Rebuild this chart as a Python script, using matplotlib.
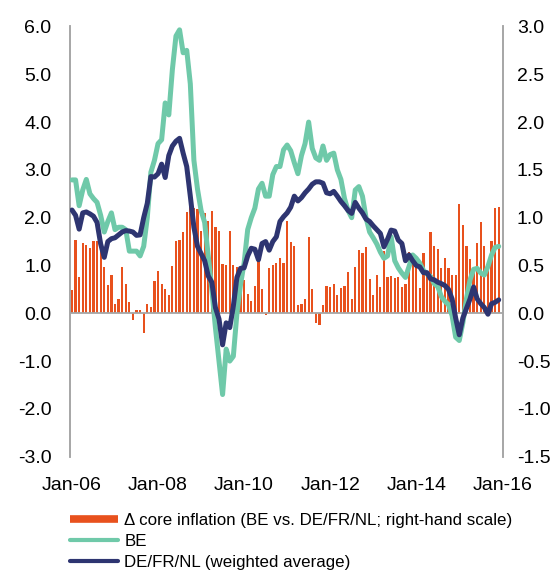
import matplotlib
matplotlib.use('Agg')
import matplotlib.pyplot as plt
from matplotlib.lines import Line2D
import numpy as np

plt.rcParams['font.family'] = ['Liberation Sans', 'DejaVu Sans']

#------- data: monthly, Jan-06 .. Dec-15 ------------
# difference in core inflation, BE vs DE/FR/NL (right-hand scale)
core_diff = [0.24, 0.77, 0.38, 0.73, 0.71, 0.68, 0.76, 0.76, 0.80, 0.48,
             0.30, 0.40, 0.10, 0.15, 0.48, 0.31, 0.12, -0.07, 0.03, 0.03,
             -0.21, 0.10, 0.07, 0.34, 0.44, 0.31, 0.25, 0.19, 0.49, 0.76,
             0.77, 0.85, 1.06, 1.13, 1.10, 1.09, 0.86, 1.05, 0.97, 1.07,
             0.90, 0.86, 0.52, 0.51, 0.86, 0.50, 0.48, 0.47, 0.35, 0.20,
             0.13, 0.29, 0.58, 0.25, -0.02, 0.47, 0.50, 0.53, 0.58, 0.53,
             0.97, 0.75, 0.70, 0.09, 0.10, 0.15, 0.80, 0.25, -0.10, -0.12,
             0.09, 0.29, 0.27, 0.31, 0.19, 0.26, 0.29, 0.43, 0.15, 0.48,
             0.66, 0.63, 0.69, 0.36, 0.19, 0.40, 0.28, 0.65, 0.38, 0.39,
             0.37, 0.38, 0.28, 0.31, 0.64, 0.53, 0.58, 0.26, 0.63, 0.44,
             0.85, 0.70, 0.67, 0.47, 0.58, 0.47, 0.40, 0.40, 1.14, 0.92,
             0.70, 0.57, 0.47, 0.73, 0.95, 0.70, 0.46, 0.76, 1.10, 1.11]

# headline inflation BE
be = [2.79, 2.79, 2.25, 2.58, 2.80, 2.50, 2.40, 2.32, 2.05, 1.70,
      1.92, 2.10, 1.75, 1.80, 1.80, 1.75, 1.30, 1.30, 1.30, 1.20,
      1.40, 2.00, 2.95, 3.20, 3.55, 3.63, 4.40, 4.15, 5.10, 5.80,
      5.93, 5.45, 5.50, 4.80, 3.20, 2.60, 2.15, 1.90, 1.20, 0.50,
      -0.30, -1.00, -1.70, -0.75, -1.00, -0.90, 0.00, 0.60, 1.05, 1.75,
      2.00, 2.20, 2.60, 2.72, 2.45, 2.45, 2.90, 3.07, 3.07, 3.42,
      3.52, 3.40, 3.15, 2.92, 3.30, 3.55, 4.00, 3.45, 3.25, 3.20,
      3.50, 3.20, 3.32, 3.35, 3.00, 2.80, 2.40, 2.15, 2.00, 2.58,
      2.65, 2.45, 2.00, 1.70, 1.58, 1.45, 1.28, 1.15, 1.20, 1.60,
      1.10, 0.95, 0.84, 0.75, 0.98, 1.22, 1.15, 1.05, 0.90, 0.82,
      0.77, 0.62, 0.56, 0.35, 0.25, 0.18, -0.05, -0.50, -0.57, -0.20,
      0.30, 0.70, 0.92, 0.94, 0.84, 0.80, 0.98, 1.22, 1.38, 1.40]

# headline inflation DE/FR/NL (weighted average)
de_fr_nl = [2.16, 2.05, 1.76, 2.10, 2.12, 2.08, 2.03, 1.90, 1.45, 1.17,
            1.50, 1.56, 1.58, 1.64, 1.70, 1.73, 1.72, 1.70, 1.63, 1.64,
            2.00, 2.30, 2.86, 2.85, 2.92, 3.12, 2.84, 3.30, 3.50, 3.60,
            3.66, 3.35, 3.07, 2.45, 1.80, 1.40, 1.25, 1.10, 0.78, 0.65,
            0.12, -0.12, -0.66, -0.20, -0.30, 0.15, 0.75, 0.94, 0.95, 1.20,
            1.36, 1.34, 1.12, 1.46, 1.50, 1.32, 1.50, 1.60, 1.92, 2.02,
            2.10, 2.22, 2.45, 2.35, 2.42, 2.52, 2.60, 2.70, 2.75, 2.75,
            2.72, 2.52, 2.50, 2.55, 2.45, 2.34, 2.25, 2.15, 2.09, 2.32,
            2.20, 2.10, 1.97, 1.92, 1.83, 1.75, 1.67, 1.39, 1.55, 1.74,
            1.72, 1.53, 1.46, 1.10, 1.22, 1.10, 1.00, 0.97, 0.85, 0.85,
            0.72, 0.70, 0.65, 0.62, 0.58, 0.50, 0.30, -0.10, -0.45, -0.10,
            0.10, 0.30, 0.55, 0.30, 0.20, 0.12, -0.02, 0.20, 0.23, 0.28]

tick_labels = ['Jan-06', 'Jan-08', 'Jan-10', 'Jan-12', 'Jan-14', 'Jan-16']
leg_labels = ['Δ core inflation (BE vs. DE/FR/NL; right-hand scale)',
              'BE', 'DE/FR/NL (weighted average)']

orange = '#E8511D'
teal = '#6FC9A9'
navy = '#2E3571'
grey = '#A6A6A6'

months = np.arange(len(be))

#------- figure ------------
fig = plt.figure(figsize=(5.56, 5.73), dpi=100)
ax1 = fig.add_axes([0.1259, 0.203, 0.7788, 0.7508])
ax2 = ax1.twinx()
# lines on top of the bars
ax1.set_zorder(ax2.get_zorder() + 1)
ax1.patch.set_visible(False)

ax2.bar(months, core_diff, width=0.62, color=orange, linewidth=0)

ax1.axhline(0, color=grey, lw=1.3, zorder=1)
ax1.plot(months, be, color=teal, lw=3.6, solid_joinstyle='round',
         solid_capstyle='round', zorder=3)
ax1.plot(months, de_fr_nl, color=navy, lw=3.6, solid_joinstyle='round',
         solid_capstyle='round', zorder=4)

ax1.set_xlim(-0.55, 120.2)
ax1.set_ylim(-3, 6)
ax2.set_ylim(-1.5, 3)
ax1.set_yticks(np.arange(-3, 6.01, 1))
ax2.set_yticks(np.arange(-1.5, 3.01, 0.5))
ax1.set_yticklabels(['%.1f' % v for v in np.arange(-3, 6.01, 1)])
ax2.set_yticklabels(['%.1f' % v for v in np.arange(-1.5, 3.01, 0.5)])
ax1.set_xticks(np.arange(0, 121, 24))
ax1.set_xticklabels(tick_labels)

ax1.tick_params(axis='y', length=0, pad=13.5, labelsize=14)
ax2.tick_params(axis='y', length=0, pad=10, labelsize=14)
ax1.tick_params(axis='x', length=0, pad=14.5, labelsize=14)

for ax in (ax1, ax2):
    ax.spines['top'].set_visible(False)
    ax.spines['bottom'].set_visible(False)
    ax.spines['left'].set_color(grey)
    ax.spines['right'].set_color(grey)
    ax.spines['left'].set_linewidth(1.2)
    ax.spines['right'].set_linewidth(1.2)

#------- legend below the plot ------------
handles = [Line2D([], [], color=orange, lw=5.5, solid_capstyle='butt'),
           Line2D([], [], color=teal, lw=3, solid_capstyle='round'),
           Line2D([], [], color=navy, lw=3, solid_capstyle='round')]
fig.legend(handles, leg_labels, loc='upper left',
           bbox_to_anchor=(70 / 556, 0.1045), frameon=False, fontsize=12.2,
           borderpad=0, borderaxespad=0, handlelength=2.85,
           handletextpad=0.35, labelspacing=0.36)

fig.savefig('out.png', dpi=100)
